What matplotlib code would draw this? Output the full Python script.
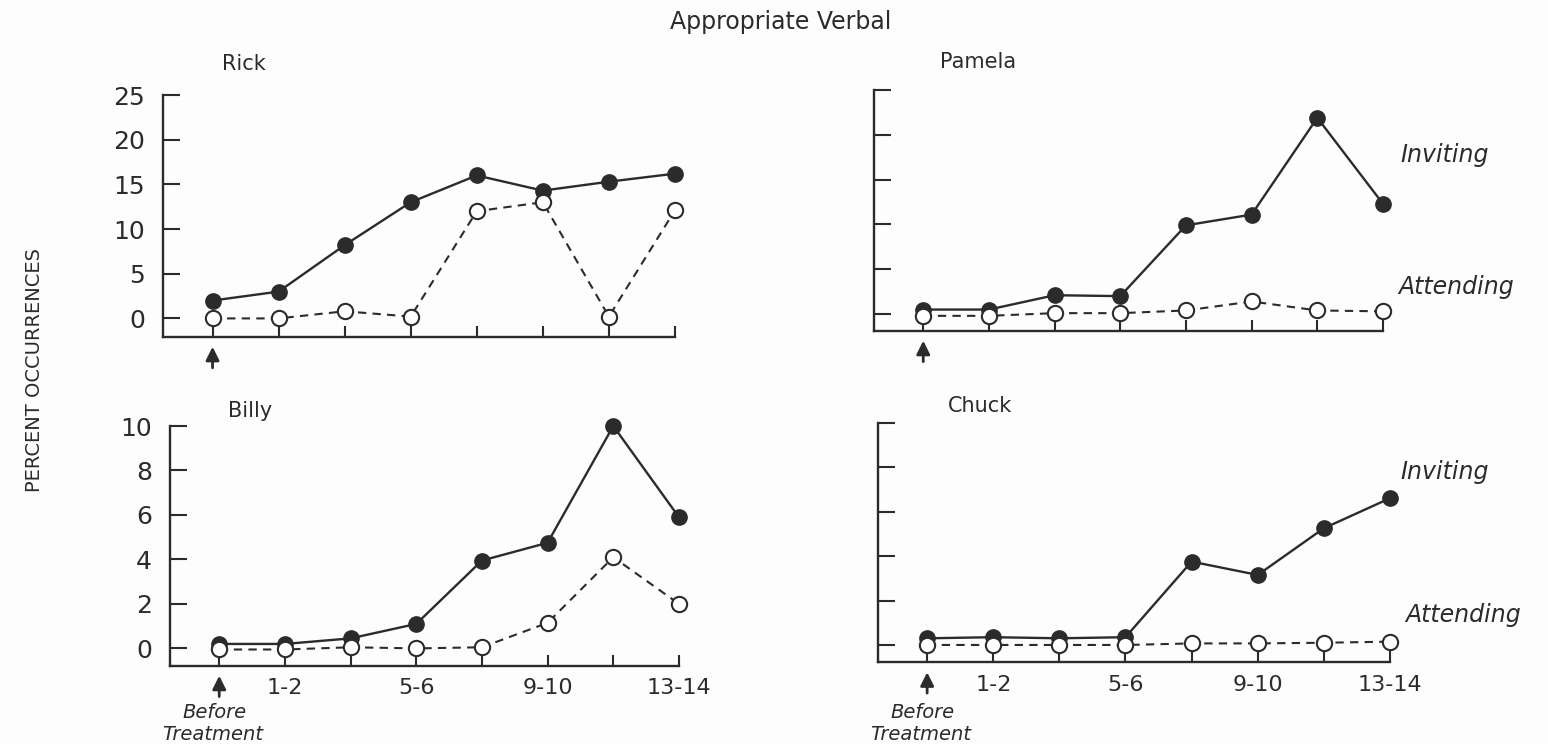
import matplotlib.pyplot as plt

# sessions: 0 = before treatment, then pairs of sessions
points = [0, 1, 2, 3, 4, 5, 6, 7]
tick_labels = ['', '1-2', '', '5-6', '', '9-10', '', '13-14']

rick_inviting = [2.0, 3.0, 8.2, 13.0, 16.0, 14.3, 15.3, 16.2]
rick_attending = [0.0, 0.0, 0.8, 0.2, 12.0, 13.0, 0.2, 12.1]
pamela_inviting = [0.5, 0.5, 2.1, 2.0, 9.9, 11.1, 21.9, 12.3]
pamela_attending = [-0.2, -0.2, 0.1, 0.1, 0.4, 1.4, 0.4, 0.3]
billy_inviting = [0.2, 0.2, 0.45, 1.1, 3.95, 4.75, 10.0, 5.9]
billy_attending = [-0.05, -0.05, 0.05, 0.0, 0.05, 1.15, 4.1, 2.0]
chuck_inviting = [0.3, 0.35, 0.3, 0.35, 3.75, 3.15, 5.25, 6.6]
chuck_attending = [0.0, 0.0, 0.0, 0.0, 0.07, 0.07, 0.1, 0.15]

ink = '#2b2b2b'
W, H = 1548, 744
fig = plt.figure(figsize=(15.48, 7.44), dpi=100)
fig.patch.set_facecolor('#fdfdfd')

# name, inviting, attending, yticks, ylim, axes rect, show y labels, show x labels, title pos (px)
panels = [
    ('Rick', rick_inviting, rick_attending, [0, 5, 10, 15, 20, 25], (-2.05, 25),
     [0.1053, 0.5474, 0.3307, 0.3249], True, False, (222, 64)),
    ('Pamela', pamela_inviting, pamela_attending, [0, 5, 10, 15, 20, 25], (-1.86, 25),
     [0.5646, 0.5555, 0.3288, 0.3235], False, False, (940, 62)),
    ('Billy', billy_inviting, billy_attending, [0, 2, 4, 6, 8, 10], (-0.78, 10),
     [0.1098, 0.1052, 0.3288, 0.3222], True, True, (228, 411)),
    ('Chuck', chuck_inviting, chuck_attending, [0, 2, 4, 6, 8, 10], (-0.78, 10),
     [0.5669, 0.1098, 0.3310, 0.3221], False, True, (948, 406)),
]

for name, inv, att, yt, yl, rect, ylab, xlab, tpos in panels:
    ax = fig.add_axes(rect)
    ax.set_facecolor('none')
    ax.plot(points, inv, '-', color=ink, lw=1.7, marker='o', ms=11,
            mfc=ink, mec=ink, clip_on=False, zorder=3)
    ax.plot(points, att, '--', color=ink, lw=1.5, dashes=(4, 3), marker='o', ms=11,
            mfc='white', mec=ink, mew=1.5, clip_on=False, zorder=4)
    ax.set_xlim(-0.75, 7)
    ax.set_ylim(*yl)
    for s in ['top', 'right']:
        ax.spines[s].set_visible(False)
    for s in ['left', 'bottom']:
        ax.spines[s].set_color(ink)
        ax.spines[s].set_linewidth(1.7)
    ax.set_xticks(points)
    ax.set_yticks(yt)
    ax.tick_params(axis='x', direction='in', length=8, width=1.5, color=ink,
                   labelsize=16, labelcolor=ink, pad=9)
    ax.tick_params(axis='y', direction='in', length=12, width=1.5, color=ink,
                   labelsize=18, labelcolor=ink, pad=13)
    if xlab:
        ax.set_xticklabels(tick_labels)
    else:
        ax.set_xticklabels([])
    if not ylab:
        ax.set_yticklabels([])
    fig.text(tpos[0] / W, 1 - tpos[1] / H, name, fontsize=15, color=ink, va='center')

    # arrow marking the start of treatment
    ax.annotate('', xy=(0, -0.03), xytext=(0, -0.14),
                xycoords=('data', 'axes fraction'), textcoords=('data', 'axes fraction'),
                arrowprops=dict(arrowstyle='-|>', color=ink, lw=2.0, mutation_scale=20))
    if xlab:
        bx = ax.transData.transform((0, 0))[0] / W
        fig.text(bx - 0.003, 1 - 713 / H, 'Before', ha='center', va='center',
                 fontsize=14, style='italic', color=ink)
        fig.text(bx - 0.004, 1 - 734 / H, 'Treatment', ha='center', va='center',
                 fontsize=14, style='italic', color=ink)

fig.text(1400 / W, 1 - 155 / H, 'Inviting', fontsize=17, style='italic', color=ink, va='center')
fig.text(1398 / W, 1 - 287 / H, 'Attending', fontsize=17, style='italic', color=ink, va='center')
fig.text(1400 / W, 1 - 472 / H, 'Inviting', fontsize=17, style='italic', color=ink, va='center')
fig.text(1405 / W, 1 - 615 / H, 'Attending', fontsize=17, style='italic', color=ink, va='center')

fig.text(0.504, 1 - 22 / H, 'Appropriate Verbal', ha='center', va='center',
         fontsize=17, color=ink)
fig.text(35 / W, 1 - 370 / H, 'PERCENT OCCURRENCES', rotation=90, ha='center',
         va='center', fontsize=14, color=ink)

fig.savefig('out.png', dpi=100, facecolor=fig.get_facecolor())
